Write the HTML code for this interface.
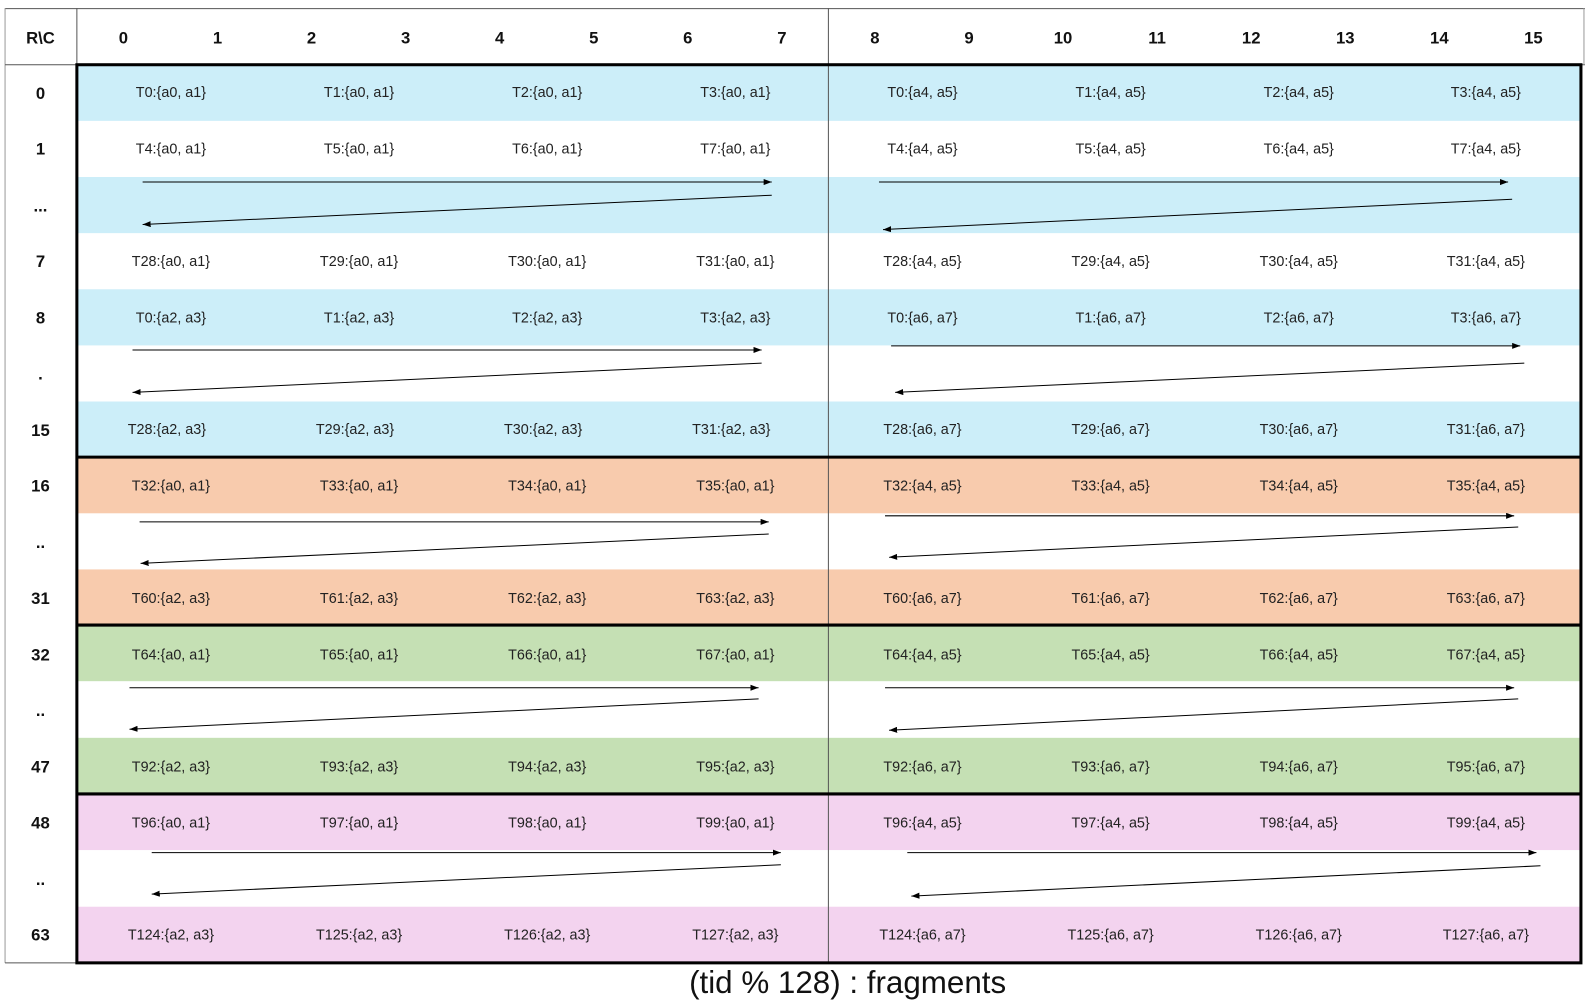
<!DOCTYPE html>
<html><head><meta charset="utf-8"><style>
html,body{margin:0;padding:0;background:#fff;}
svg{display:block;}
text{font-family:"Liberation Sans",sans-serif;}
.c{font-size:14.2px;fill:#222;text-anchor:middle;}
.h{font-size:16.5px;font-weight:bold;fill:#111;text-anchor:middle;}
</style></head><body>
<svg width="1587" height="1002" viewBox="0 0 1569 990.7" preserveAspectRatio="none" xmlns="http://www.w3.org/2000/svg">
<defs><marker id="a" markerWidth="8" markerHeight="6" refX="8" refY="3" orient="auto" markerUnits="userSpaceOnUse"><path d="M0,0 L8,3 L0,6z" fill="#000"/></marker></defs>
<rect x="0" y="0" width="1569" height="991" fill="#fff"/>
<g>
<rect x="76" y="64" width="1487" height="55.5" fill="#CCEEF9"/>
<rect x="76" y="175" width="1487" height="55.5" fill="#CCEEF9"/>
<rect x="76" y="286" width="1487" height="55.5" fill="#CCEEF9"/>
<rect x="76" y="397" width="1487" height="55.5" fill="#CCEEF9"/>
<rect x="76" y="452" width="1487" height="55.5" fill="#F8CBAD"/>
<rect x="76" y="563" width="1487" height="55.5" fill="#F8CBAD"/>
<rect x="76" y="618" width="1487" height="55.5" fill="#C5E0B4"/>
<rect x="76" y="729.5" width="1487" height="55.5" fill="#C5E0B4"/>
<rect x="76" y="785" width="1487" height="55.5" fill="#F3D3EF"/>
<rect x="76" y="896.5" width="1487" height="55.5" fill="#F3D3EF"/>
</g>
<g stroke="#555" stroke-width="1" fill="none">
<line x1="5" y1="8.5" x2="1567" y2="8.5"/>
<line x1="5" y1="8" x2="5" y2="952" stroke="#999"/>
<line x1="76" y1="8" x2="76" y2="952"/>
<line x1="5" y1="64" x2="1567" y2="64"/>
<line x1="819" y1="8" x2="819" y2="952"/>
<line x1="1566" y1="8" x2="1566" y2="64" stroke="#999"/>
<line x1="5" y1="952" x2="76" y2="952"/>
</g>
<g stroke="#000" stroke-width="3" fill="none">
<rect x="76" y="64" width="1487" height="888"/>
<line x1="76" y1="452" x2="1563" y2="452"/>
<line x1="76" y1="618" x2="1563" y2="618"/>
<line x1="76" y1="785" x2="1563" y2="785"/>
</g>
<g class="h">
<text x="40" y="43" class="h">R\C</text>
<text x="122" y="43" class="h">0</text><text x="215" y="43" class="h">1</text><text x="308" y="43" class="h">2</text><text x="401" y="43" class="h">3</text>
<text x="494" y="43" class="h">4</text><text x="587" y="43" class="h">5</text><text x="680" y="43" class="h">6</text><text x="773" y="43" class="h">7</text>
<text x="865" y="43" class="h">8</text><text x="958" y="43" class="h">9</text><text x="1051" y="43" class="h">10</text><text x="1144" y="43" class="h">11</text>
<text x="1237" y="43" class="h">12</text><text x="1330" y="43" class="h">13</text><text x="1423" y="43" class="h">14</text><text x="1516" y="43" class="h">15</text>
</g>
<g>
<text x="40" y="98" class="h">0</text>
<text x="40" y="153" class="h">1</text>
<text x="40" y="209" class="h">...</text>
<text x="40" y="264" class="h">7</text>
<text x="40" y="320" class="h">8</text>
<text x="40" y="375" class="h">.</text>
<text x="40" y="431" class="h">15</text>
<text x="40" y="486" class="h">16</text>
<text x="40" y="542" class="h">..</text>
<text x="40" y="597" class="h">31</text>
<text x="40" y="653" class="h">32</text>
<text x="40" y="708" class="h">..</text>
<text x="40" y="764" class="h">47</text>
<text x="40" y="819" class="h">48</text>
<text x="40" y="875" class="h">..</text>
<text x="40" y="930" class="h">63</text>
</g>
<g class="c">
<text x="169" y="96" class="c">T0:{a0, a1}</text><text x="355" y="96" class="c">T1:{a0, a1}</text><text x="541" y="96" class="c">T2:{a0, a1}</text><text x="727" y="96" class="c">T3:{a0, a1}</text>
<text x="912" y="96" class="c">T0:{a4, a5}</text><text x="1098" y="96" class="c">T1:{a4, a5}</text><text x="1284" y="96" class="c">T2:{a4, a5}</text><text x="1469" y="96" class="c">T3:{a4, a5}</text>

<text x="169" y="152" class="c">T4:{a0, a1}</text><text x="355" y="152" class="c">T5:{a0, a1}</text><text x="541" y="152" class="c">T6:{a0, a1}</text><text x="727" y="152" class="c">T7:{a0, a1}</text>
<text x="912" y="152" class="c">T4:{a4, a5}</text><text x="1098" y="152" class="c">T5:{a4, a5}</text><text x="1284" y="152" class="c">T6:{a4, a5}</text><text x="1469" y="152" class="c">T7:{a4, a5}</text>

<text x="169" y="263" class="c">T28:{a0, a1}</text><text x="355" y="263" class="c">T29:{a0, a1}</text><text x="541" y="263" class="c">T30:{a0, a1}</text><text x="727" y="263" class="c">T31:{a0, a1}</text>
<text x="912" y="263" class="c">T28:{a4, a5}</text><text x="1098" y="263" class="c">T29:{a4, a5}</text><text x="1284" y="263" class="c">T30:{a4, a5}</text><text x="1469" y="263" class="c">T31:{a4, a5}</text>

<text x="169" y="319" class="c">T0:{a2, a3}</text><text x="355" y="319" class="c">T1:{a2, a3}</text><text x="541" y="319" class="c">T2:{a2, a3}</text><text x="727" y="319" class="c">T3:{a2, a3}</text>
<text x="912" y="319" class="c">T0:{a6, a7}</text><text x="1098" y="319" class="c">T1:{a6, a7}</text><text x="1284" y="319" class="c">T2:{a6, a7}</text><text x="1469" y="319" class="c">T3:{a6, a7}</text>

<text x="165" y="429" class="c">T28:{a2, a3}</text><text x="351" y="429" class="c">T29:{a2, a3}</text><text x="537" y="429" class="c">T30:{a2, a3}</text><text x="723" y="429" class="c">T31:{a2, a3}</text>
<text x="912" y="429" class="c">T28:{a6, a7}</text><text x="1098" y="429" class="c">T29:{a6, a7}</text><text x="1284" y="429" class="c">T30:{a6, a7}</text><text x="1469" y="429" class="c">T31:{a6, a7}</text>

<text x="169" y="485" class="c">T32:{a0, a1}</text><text x="355" y="485" class="c">T33:{a0, a1}</text><text x="541" y="485" class="c">T34:{a0, a1}</text><text x="727" y="485" class="c">T35:{a0, a1}</text>
<text x="912" y="485" class="c">T32:{a4, a5}</text><text x="1098" y="485" class="c">T33:{a4, a5}</text><text x="1284" y="485" class="c">T34:{a4, a5}</text><text x="1469" y="485" class="c">T35:{a4, a5}</text>

<text x="169" y="596" class="c">T60:{a2, a3}</text><text x="355" y="596" class="c">T61:{a2, a3}</text><text x="541" y="596" class="c">T62:{a2, a3}</text><text x="727" y="596" class="c">T63:{a2, a3}</text>
<text x="912" y="596" class="c">T60:{a6, a7}</text><text x="1098" y="596" class="c">T61:{a6, a7}</text><text x="1284" y="596" class="c">T62:{a6, a7}</text><text x="1469" y="596" class="c">T63:{a6, a7}</text>

<text x="169" y="652" class="c">T64:{a0, a1}</text><text x="355" y="652" class="c">T65:{a0, a1}</text><text x="541" y="652" class="c">T66:{a0, a1}</text><text x="727" y="652" class="c">T67:{a0, a1}</text>
<text x="912" y="652" class="c">T64:{a4, a5}</text><text x="1098" y="652" class="c">T65:{a4, a5}</text><text x="1284" y="652" class="c">T66:{a4, a5}</text><text x="1469" y="652" class="c">T67:{a4, a5}</text>

<text x="169" y="763" class="c">T92:{a2, a3}</text><text x="355" y="763" class="c">T93:{a2, a3}</text><text x="541" y="763" class="c">T94:{a2, a3}</text><text x="727" y="763" class="c">T95:{a2, a3}</text>
<text x="912" y="763" class="c">T92:{a6, a7}</text><text x="1098" y="763" class="c">T93:{a6, a7}</text><text x="1284" y="763" class="c">T94:{a6, a7}</text><text x="1469" y="763" class="c">T95:{a6, a7}</text>

<text x="169" y="818" class="c">T96:{a0, a1}</text><text x="355" y="818" class="c">T97:{a0, a1}</text><text x="541" y="818" class="c">T98:{a0, a1}</text><text x="727" y="818" class="c">T99:{a0, a1}</text>
<text x="912" y="818" class="c">T96:{a4, a5}</text><text x="1098" y="818" class="c">T97:{a4, a5}</text><text x="1284" y="818" class="c">T98:{a4, a5}</text><text x="1469" y="818" class="c">T99:{a4, a5}</text>

<text x="169" y="929" class="c">T124:{a2, a3}</text><text x="355" y="929" class="c">T125:{a2, a3}</text><text x="541" y="929" class="c">T126:{a2, a3}</text><text x="727" y="929" class="c">T127:{a2, a3}</text>
<text x="912" y="929" class="c">T124:{a6, a7}</text><text x="1098" y="929" class="c">T125:{a6, a7}</text><text x="1284" y="929" class="c">T126:{a6, a7}</text><text x="1469" y="929" class="c">T127:{a6, a7}</text>
</g>
<g stroke="#000" stroke-width="1" marker-end="url(#a)">
<line x1="141" y1="180" x2="763" y2="180"/><line x1="763" y1="193" x2="141" y2="222"/>
<line x1="869" y1="180" x2="1491" y2="180"/><line x1="1495" y1="197" x2="873" y2="227"/>
<line x1="131" y1="346" x2="753" y2="346"/><line x1="753" y1="359" x2="131" y2="388"/>
<line x1="881" y1="342" x2="1503" y2="342"/><line x1="1507" y1="359" x2="885" y2="388"/>
<line x1="138" y1="516" x2="760" y2="516"/><line x1="760" y1="528" x2="139" y2="557"/>
<line x1="875" y1="510" x2="1497" y2="510"/><line x1="1501" y1="521" x2="879" y2="551"/>
<line x1="128" y1="680" x2="750" y2="680"/><line x1="750" y1="691" x2="128" y2="721"/>
<line x1="875" y1="680" x2="1497" y2="680"/><line x1="1501" y1="691" x2="879" y2="722"/>
<line x1="150" y1="843" x2="772" y2="843"/><line x1="772" y1="855" x2="150" y2="884"/>
<line x1="897" y1="843" x2="1519" y2="843"/><line x1="1523" y1="856" x2="901" y2="886"/>
</g>
<text x="838" y="982" style="font-size:31px;fill:#111;text-anchor:middle;">(tid % 128) : fragments</text>
</svg>
</body></html>
